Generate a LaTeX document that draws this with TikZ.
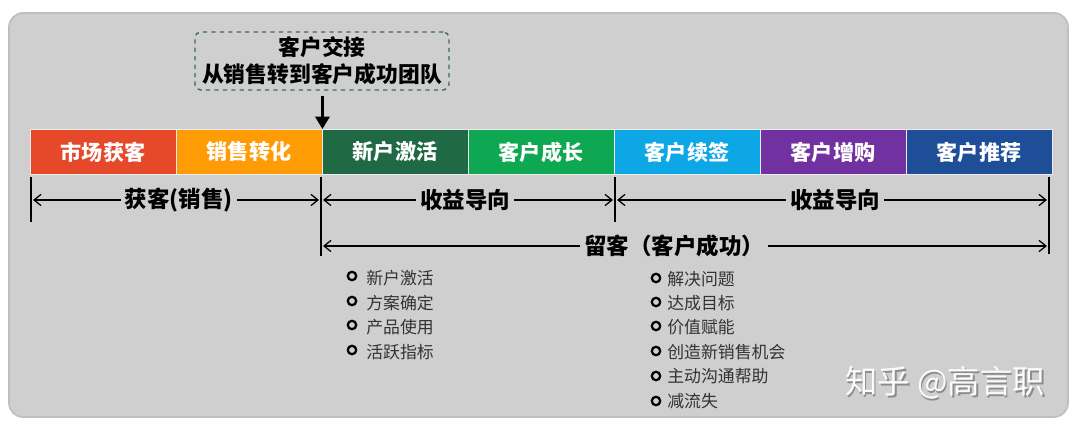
\documentclass[tikz,border=0pt]{standalone}
\usepackage{fontspec}
\setmainfont{Noto Sans CJK SC}
\usetikzlibrary{arrows.meta}

\definecolor{panelgray}{HTML}{CFCFCF}
\definecolor{stageA}{HTML}{E5492A}
\definecolor{stageB}{HTML}{FF9B05}
\definecolor{stageC}{HTML}{1F6A45}
\definecolor{stageD}{HTML}{0DA851}
\definecolor{stageE}{HTML}{0DA7E6}
\definecolor{stageF}{HTML}{7131A0}
\definecolor{stageG}{HTML}{1D4E97}
\definecolor{handoff}{HTML}{3C6E52}

\tikzset{
  stage/.style={fill=#1, draw=white!85!gray, line width=0.6pt, text=white,
    minimum width=3.65cm, minimum height=1.12cm, inner sep=0pt,
    font=\fontsize{15}{18}\selectfont\bfseries},
  span/.style={{Straight Barb[length=5pt,width=8pt]}-{Straight Barb[length=5pt,width=8pt]}, line width=0.9pt},
  spanlabel/.style={fill=panelgray, inner sep=3pt, font=\fontsize{16}{18}\selectfont\bfseries},
  tick/.style={line width=1pt},
  bullet/.style={circle, draw=black, line width=1.6pt, minimum size=6pt, inner sep=0pt},
  item/.style={anchor=west, inner sep=0pt, text=black!80, font=\fontsize{12}{14}\selectfont},
}

\begin{document}
\begin{tikzpicture}[x=0.025cm, y=-0.025cm]
    \useasboundingbox (0,0) rectangle (1080,431);

    % Panel
    \draw[fill=panelgray, draw=black!25, line width=1.2pt, rounded corners=0.35cm] (9,13) rectangle (1068,417);

    % Handoff note
    \node[draw=handoff, dashed, line width=1pt, rounded corners=4pt, align=center,
          minimum width=6.35cm, minimum height=1.45cm, inner sep=1pt,
          font=\fontsize{15.5}{19}\selectfont\bfseries] (note) at (322,61)
          {客户交接\\从销售转到客户成功团队};

    % Customer lifecycle bar
    \node[stage=stageA] (market)   at (103,152) {市场获客};
    \node[stage=stageB] (convert)  at (249,152) {销售转化};
    \node[stage=stageC] (activate) at (395,152) {新户激活};
    \node[stage=stageD] (grow)     at (541,152) {客户成长};
    \node[stage=stageE] (renew)    at (687,152) {客户续签};
    \node[stage=stageF] (upsell)   at (833,152) {客户增购};
    \node[stage=stageG] (refer)    at (979,152) {客户推荐};

    \coordinate (handin) at (convert.north east);
    \draw[-{Triangle[length=9pt,width=10pt]}, line width=2.6pt] (note.south -| handin) ++(0,5) coordinate (handtop)
          (handtop) -- (handin);

    % Boundary ticks
    \coordinate (t0) at (31,177);   \coordinate (b0) at (31,222);
    \coordinate (t1) at (321,177);  \coordinate (b1) at (321,256);
    \coordinate (t2) at (615,177);  \coordinate (b2) at (615,222);
    \coordinate (t3) at (1049,177); \coordinate (b3) at (1049,254);
    \draw[tick] (t0) -- (b0);
    \draw[tick] (t1) -- (b1);
    \draw[tick] (t2) -- (b2);
    \draw[tick] (t3) -- (b3);

    % Spans
    \coordinate (s0) at (33,200);  \coordinate (e0) at (319,200);
    \coordinate (s1) at (323,200); \coordinate (e1) at (613,200);
    \coordinate (s2) at (617,200); \coordinate (e2) at (1047,200);
    \coordinate (s3) at (323,246); \coordinate (e3) at (1047,246);
    \draw[span] (s0) -- (e0) node[spanlabel, pos=0.51] (acq) {获客(销售)};
    \draw[span] (s1) -- (e1) node[spanlabel, pos=0.49] (rev1) {收益导向};
    \draw[span] (s2) -- (e2) node[spanlabel, pos=0.507] (rev2) {收益导向};
    \draw[span] (s3) -- (e3) node[spanlabel, pos=0.485] (keep) {留客（客户成功）};

    % Onboarding items
    \node[bullet] (o1) at (352,276) {}; \node[item] at (366,278) {新户激活};
    \node[bullet] (o2) at (352,301) {}; \node[item] at (366,303) {方案确定};
    \node[bullet] (o3) at (352,325) {}; \node[item] at (366,327) {产品使用};
    \node[bullet] (o4) at (352,350) {}; \node[item] at (366,352) {活跃指标};

    % Success items
    \node[bullet] (c1) at (656,278) {}; \node[item] at (667,279) {解决问题};
    \node[bullet] (c2) at (656,302) {}; \node[item] at (667,303) {达成目标};
    \node[bullet] (c3) at (656,326) {}; \node[item] at (667,327) {价值赋能};
    \node[bullet] (c4) at (656,351) {}; \node[item] at (667,352) {创造新销售机会};
    \node[bullet] (c5) at (656,376) {}; \node[item] at (667,376) {主动沟通帮助};
    \node[bullet] (c6) at (656,401) {}; \node[item] at (667,401) {减流失};

    % Watermark
    \node[text=black!45, anchor=east, font=\fontsize{23}{26}\selectfont] at (1051.5,385) {知乎 @高言职};
    \node[text=white!97!gray, anchor=east, font=\fontsize{23}{26}\selectfont] (mark) at (1050,383) {知乎 @高言职};
\end{tikzpicture}
\end{document}
